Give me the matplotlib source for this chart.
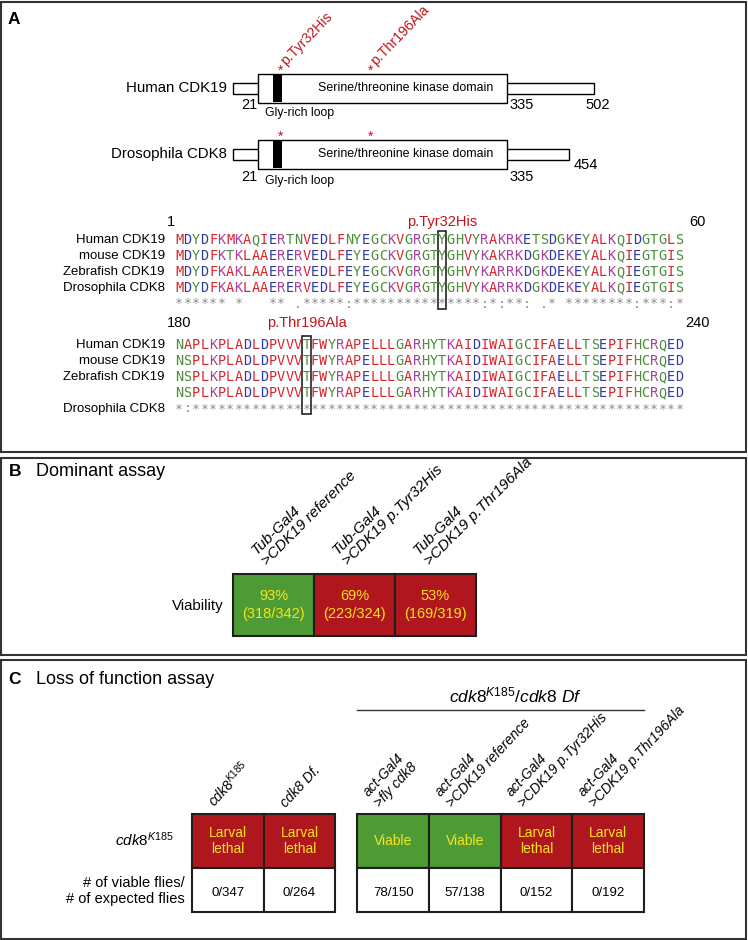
import numpy as np
import matplotlib.pyplot as plt
from matplotlib.patches import Rectangle

plt.rcParams['font.family'] = ['Liberation Sans', 'DejaVu Sans']
plt.rcParams['mathtext.fontset'] = 'custom'
plt.rcParams['mathtext.rm'] = 'Liberation Sans'
plt.rcParams['mathtext.it'] = 'Liberation Sans:italic'
plt.rcParams['mathtext.bf'] = 'Liberation Sans:bold'

W, H = 748, 940
RED = '#b0161e'
GREEN = '#4e9a35'
YELLOW = '#f5e51c'
MUT = '#c0141c'
EDGE = '#1e1e1e'

# ---------------- data ----------------
# A: protein schematic
proteins = ["Human CDK19", "Drosophila CDK8"]
protein_len = [502, 454]
kinase_domain = (21, 335)
gly_loop = (28, 33)
mut_pos = [32, 196]
mut_names = ["p.Tyr32His", "p.Thr196Ala"]

# the schematic is not to scale -> piecewise residue/pixel breakpoints
sch_res = [-1000, 1, 21, 32, 196, 335, 502, 3000]
sch_px = [233 - 1001, 233, 258, 281, 371, 507, 594, 594 + 2498]

# A: alignment
aln_names_1 = ["Human CDK19", "mouse CDK19", "Zebrafish CDK19", "Drosophila CDK8"]
aln_seq_1 = ["MDYDFKMKAQIERTNVEDLFNYEGCKVGRGTYGHVYRAKRKETSDGKEYALKQIDGTGLS",
             "MDYDFKTKLAAERERVEDLFEYEGCKVGRGTYGHVYKAKRKDGKDEKEYALKQIEGTGIS",
             "MDYDFKAKLAAERERVEDLFEYEGCKVGRGTYGHVYKARRKDGKDEKEYALKQIEGTGIS",
             "MDYDFKAKLAAERERVEDLFEYEGCKVGRGTYGHVYKARRKDGKDEKEYALKQIEGTGIS"]
aln_cons_1 = "****** *   ** .*****:" + "*" * 15 + ":*:**: .* ********:***:*"

aln_names_2 = ["Human CDK19", "mouse CDK19", "Zebrafish CDK19", "", "Drosophila CDK8"]
aln_seq_2 = ["NAPLKPLADLDPVVVTFWYRAPELLLGARHYTKAIDIWAIGCIFAELLTSEPIFHCRQED",
             "NSPLKPLADLDPVVVTFWYRAPELLLGARHYTKAIDIWAIGCIFAELLTSEPIFHCRQED",
             "NSPLKPLADLDPVVVTFWYRAPELLLGARHYTKAIDIWAIGCIFAELLTSEPIFHCRQED",
             "NSPLKPLADLDPVVVTFWYRAPELLLGARHYTKAIDIWAIGCIFAELLTSEPIFHCRQED"]
aln_cons_2 = "*:" + "*" * 58

block_start = [1, 180]
block_end = [60, 240]
block_mut_col = [32, 16]

clustal = {'AVFPMILW': '#d8252b', 'DE': '#3138a6', 'RK': '#a8409f',
           'STYHCNGQ': '#4b8d3b'}

# B: dominant assay
dom_labels = ["Tub-Gal4\n>CDK19 reference", "Tub-Gal4\n>CDK19 p.Tyr32His",
              "Tub-Gal4\n>CDK19 p.Thr196Ala"]
dom_viable = [318, 223, 169]
dom_total = [342, 324, 319]
dom_ok = [True, False, False]

# C: loss of function assay
lof_labels = [r"$\mathit{cdk8}^{\mathit{K185}}$", "cdk8 Df.", "act-Gal4\n>fly cdk8",
              "act-Gal4\n>CDK19 reference", "act-Gal4\n>CDK19 p.Tyr32His",
              "act-Gal4\n>CDK19 p.Thr196Ala"]
lof_pheno = ["Larval\nlethal", "Larval\nlethal", "Viable", "Viable",
             "Larval\nlethal", "Larval\nlethal"]
lof_viable = [0, 0, 78, 57, 0, 0]
lof_expected = [347, 264, 150, 138, 152, 192]
lof_group = [0, 0, 1, 1, 1, 1]

# ---------------- figure ----------------
fig = plt.figure(figsize=(W / 100, H / 100), dpi=100)


def add_px_axes(x0, y0, x1, y1):
    ax = fig.add_axes([x0 / W, 1 - y1 / H, (x1 - x0) / W, (y1 - y0) / H])
    ax.set_axis_off()
    ax.patch.set_visible(False)
    return ax


frame = add_px_axes(0, 0, W, H)
frame.set_xlim(0, W)
frame.set_ylim(H, 0)
for top, bottom in [(1.5, 452), (458, 654.5), (660, 938.5)]:
    frame.add_patch(Rectangle((1.5, top), W - 3, bottom - top, fill=False,
                              ec='#333333', lw=1.5))
frame.text(14, 19, 'A', weight='bold', fontsize=12.5, ha='center', va='center')
frame.text(15, 471, 'B', weight='bold', fontsize=12.5, ha='center', va='center')
frame.text(36, 471, 'Dominant assay', fontsize=13, ha='left', va='center')
frame.text(15, 679, 'C', weight='bold', fontsize=12.5, ha='center', va='center')
frame.text(36, 679, 'Loss of function assay', fontsize=13, ha='left', va='center')

# ---- A: schematic
ax = add_px_axes(0, 0, W, 230)
fwd = lambda r: np.interp(r, sch_res, sch_px)
inv = lambda p: np.interp(p, sch_px, sch_res)
ax.set_xscale('function', functions=(fwd, inv))
ax.set_xlim(inv(0), inv(W))
ax.set_ylim(230, 0)

dom_y = [88, 154]
ax.barh(dom_y, [L - 1 for L in protein_len], left=1, height=11,
        color='white', edgecolor='black', lw=1, zorder=2)
ax.barh(dom_y, kinase_domain[1] - kinase_domain[0], left=kinase_domain[0],
        height=29, color='white', edgecolor='black', lw=1, zorder=3)
ax.barh(dom_y, gly_loop[1] - gly_loop[0], left=gly_loop[0], height=28,
        color='black', lw=0, zorder=4)

num_dy = [17, 23]
loop_dy = [25, 27]
end_off = [(4, -17), (17, -11)]
for i, (name, L, y) in enumerate(zip(proteins, protein_len, dom_y)):
    kw = dict(textcoords='offset pixels', va='center')
    ax.annotate(name, (1, y), xytext=(-6, 0), ha='right', fontsize=10.8, **kw)
    ax.annotate('Serine/threonine kinase domain', (kinase_domain[1], y),
                xytext=(-101, 0), ha='center', fontsize=8.9, zorder=5, **kw)
    ax.annotate(str(kinase_domain[0]), (kinase_domain[0], y),
                xytext=(-9, -num_dy[i]), ha='center', fontsize=10.5, **kw)
    ax.annotate(str(kinase_domain[1]), (kinase_domain[1], y),
                xytext=(15, -num_dy[i]), ha='center', fontsize=10.5, **kw)
    ax.annotate(str(L), (L, y), xytext=end_off[i], ha='center', fontsize=10.5, **kw)
    ax.annotate('Gly-rich loop', (kinase_domain[0], y), xytext=(7, -loop_dy[i]),
                ha='left', fontsize=8.8, **kw)
    for p in mut_pos:
        ax.annotate('*', (p, y), xytext=(0, 17), textcoords='offset pixels',
                    ha='center', va='center', color=MUT, fontsize=10)
for p, name in zip(mut_pos, mut_names):
    ax.annotate(name, (p, dom_y[0]), xytext=(5, 22), textcoords='offset pixels',
                rotation=46, rotation_mode='anchor', ha='left', va='baseline',
                color=MUT, fontsize=10.2)

# ---- A: alignment
ax2 = add_px_axes(0, 200, W, 452)
col0, colw = 175, 8.48
ax2.set_xlim(-col0 / colw, (W - col0) / colw)
ax2.set_ylim(452, 200)


def aa_color(ch):
    for k, v in clustal.items():
        if ch in k:
            return v
    return 'black'


blocks = [(aln_names_1, aln_seq_1, aln_cons_1), (aln_names_2, aln_seq_2, aln_cons_2)]
block_y0 = [240, 345]
header_y = [222, 323]
step = 16
for b, (names, seqs, cons) in enumerate(blocks):
    y0 = block_y0[b]
    for r, seq in enumerate(seqs):
        for c, ch in enumerate(seq):
            ax2.text(c + 0.5, y0 + r * step, ch, color=aa_color(ch),
                     family='DejaVu Sans Mono', fontsize=9.8, ha='center', va='center')
    for c, ch in enumerate(cons):
        if ch != ' ':
            ax2.text(c + 0.5, y0 + 4 * step, ch, color='#8a8a8a',
                     family='DejaVu Sans Mono', fontsize=9.5, ha='center', va='center')
    for r, name in enumerate(names):
        ax2.text(-1.2, y0 + r * step, name, ha='right', va='center', fontsize=9.5)
    mc = block_mut_col[b]
    ax2.add_patch(Rectangle((mc - 1, y0 - 9), 1, 4 * step + 14, fill=False,
                            ec='#222222', lw=1.2))
    hy = header_y[b]
    ax2.text(-1.0, hy, str(block_start[b]), ha='left', va='center', fontsize=10.5)
    ax2.text(61.6, hy, str(block_end[b]), ha='center', va='center', fontsize=10.5)
    ax2.text(mc - 0.5, hy, mut_names[b], ha='center', va='center', fontsize=10.5,
             color=MUT)

# ---- B: dominant assay table
axb = add_px_axes(233, 574, 476, 636)
axb.set_xlim(0, len(dom_labels))
axb.set_ylim(62, 0)
xb = np.arange(len(dom_labels)) + 0.5
axb.bar(xb, 62, width=1, bottom=0, color=[GREEN if ok else RED for ok in dom_ok],
        edgecolor=EDGE, lw=1.5, clip_on=False)
for x, v, t, lab in zip(xb, dom_viable, dom_total, dom_labels):
    axb.text(x, 22, f"{round(100 * v / t)}%", ha='center', va='center',
             color=YELLOW, fontsize=10.5)
    axb.text(x, 40, f"({v}/{t})", ha='center', va='center', color=YELLOW, fontsize=10.5)
    axb.annotate(lab, (x, 0), xytext=(-4, 6), textcoords='offset pixels',
                 rotation=45, rotation_mode='anchor', ha='left', va='bottom',
                 style='italic', fontsize=11, linespacing=1.15, annotation_clip=False)
axb.annotate('Viability', (0, 32), xytext=(-9, 0), textcoords='offset pixels',
             ha='right', va='center', fontsize=10.8, annotation_clip=False)

# ---- C: loss of function table
g = 22 / 71.5
xc = [i + 0.5 + g * grp for i, grp in enumerate(lof_group)]
axc = add_px_axes(192, 814, 644, 912)
axc.set_xlim(0, len(lof_labels) + g)
axc.set_ylim(98, 0)
pheno_col = [GREEN if p == "Viable" else RED for p in lof_pheno]
axc.bar(xc, 54, width=1, bottom=0, color=pheno_col, edgecolor=EDGE, lw=1.5,
        clip_on=False)
axc.bar(xc, 44, width=1, bottom=54, color='white', edgecolor=EDGE, lw=1.5,
        clip_on=False)
for x, lab, ph, v, e in zip(xc, lof_labels, lof_pheno, lof_viable, lof_expected):
    axc.text(x, 27, ph, ha='center', va='center', color=YELLOW, fontsize=10,
             linespacing=1.1)
    axc.text(x, 79, f"{v}/{e}", ha='center', va='center', fontsize=9.5)
    axc.annotate(lab, (x, 0), xytext=(-11, 4), textcoords='offset pixels',
                 rotation=47, rotation_mode='anchor', ha='left', va='bottom',
                 style='italic', fontsize=10, linespacing=1.15, annotation_clip=False)
axc.annotate(r"$\mathit{cdk8}^{\mathit{K185}}$", (0, 26), xytext=(-18, 0),
             textcoords='offset pixels', ha='right', va='center', fontsize=11,
             annotation_clip=False)
axc.annotate("# of viable flies/\n# of expected flies", (0, 77), xytext=(-7, 0),
             textcoords='offset pixels', ha='right', va='center', fontsize=10.5,
             multialignment='right', linespacing=1.2, annotation_clip=False)
grp_x = [x for x, grp in zip(xc, lof_group) if grp == 1]
axc.plot([grp_x[0] - 0.5, grp_x[-1] + 0.5], [-104, -104], color='#333333', lw=1,
         clip_on=False)
axc.annotate(r"$\mathit{cdk8}^{\mathit{K185}}\mathit{/cdk8\ Df}$",
             ((grp_x[0] + grp_x[-1]) / 2, -119), xytext=(15, 0),
             textcoords='offset pixels', ha='center', va='center', fontsize=12.5,
             annotation_clip=False)

fig.savefig('out.png', dpi=100)
